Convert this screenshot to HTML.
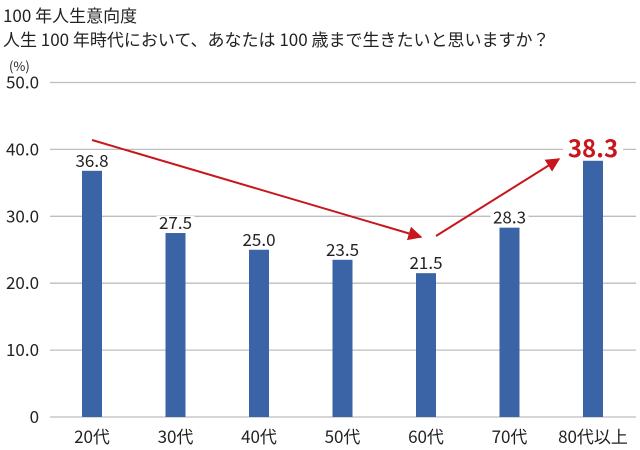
<!DOCTYPE html>
<html><head><meta charset="utf-8"><style>
html,body{margin:0;padding:0;background:#fff;}
svg{display:block;font-family:"Noto Sans CJK JP",sans-serif;}
</style></head><body>
<svg id="chart" width="640" height="450" viewBox="0 0 640 450">
<text x="3" y="22" font-size="17" fill="#222">100 年人生意向度</text>
<text x="3" y="46" font-size="17" fill="#222">人生 100 年時代において、あなたは 100 歳まで生きたいと思いますか？</text>
<text x="9" y="71" font-size="13" fill="#222">(%)</text>
<g id="grid"></g><g id="bars"></g><g id="labels"></g>
<defs><marker id="ah" viewBox="0 0 10 10" refX="9" refY="5" markerWidth="7" markerHeight="7" orient="auto"><path d="M0,0 L10,5 L0,10 z" fill="#c8161d"/></marker></defs>
<line x1="92" y1="140" x2="421" y2="237" stroke="#c8161d" stroke-width="2" marker-end="url(#ah)"/>
<line x1="436" y1="236" x2="559" y2="159" stroke="#c8161d" stroke-width="2" marker-end="url(#ah)"/>
</svg>
<script>
const categories=["20代","30代","40代","50代","60代","70代","80代以上"];
const values=[36.8,27.5,25.0,23.5,21.5,28.3,38.3];
const ticks=[0,10,20,30,40,50];
const tickLabels=["0","10.0","20.0","30.0","40.0","50.0"];
const NS="http://www.w3.org/2000/svg";
const y=v=>417-v*6.69;
const x=i=>92+i*83.5;
function mk(t,a,p){const e=document.createElementNS(NS,t);for(const k in a)e.setAttribute(k,a[k]);p.appendChild(e);return e;}
const g=document.getElementById('grid'),b=document.getElementById('bars'),l=document.getElementById('labels');
ticks.forEach((t,i)=>{
 const ln=mk('line',{x1:50,x2:636,y1:y(t),y2:y(t),stroke:'#bdbdbd','stroke-width':1.3},g);
 
 
 const tx=mk('text',{x:39,y:y(t)+6,'font-size':17,'text-anchor':'end',fill:'#222'},g);
 tx.textContent=tickLabels[i];
 
 
});
values.forEach((v,i)=>{
 const r=mk('rect',{x:x(i)-10,y:y(v),width:20,height:417-y(v),fill:'#3a64a6'},b);
 
 
 const last=i===values.length-1;
 const s=last?24:17;
 const w=last?60:38;
 const bg=mk('rect',{x:x(i)-w/2,y:y(v)-s,width:w,height:s-3,fill:'#fff'},l);
 
 
 const t=mk('text',{x:x(i),y:y(v)-4,'font-size':s,'text-anchor':'middle',fill:last?'#c8161d':'#222','font-weight':last?'bold':'normal'},l);
 t.textContent=v.toFixed(1);
 
 
 const c=mk('text',{x:x(i),y:443,'font-size':17,'text-anchor':'middle',fill:'#222'},l);
 c.textContent=categories[i];
 
 
});
</script>
</body></html>
